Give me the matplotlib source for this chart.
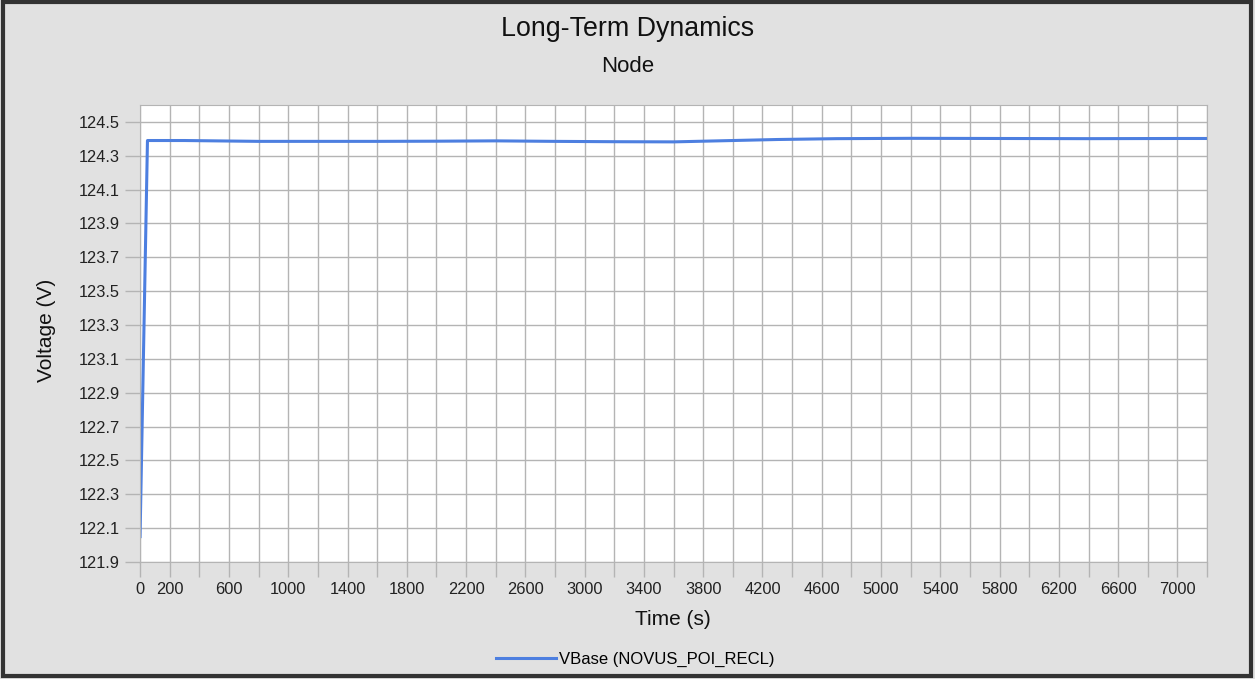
import numpy as np
import matplotlib.pyplot as plt
from matplotlib.patches import Rectangle

plt.rcParams['font.family'] = ['Liberation Sans', 'DejaVu Sans']

# values
time_s = [0, 50, 300, 800, 1200, 1600, 2000, 2400, 2800, 3200, 3600, 3900, 4300, 4700, 5200, 5800, 6400, 7000, 7200]
vbase = [122.05, 124.39, 124.39, 124.385, 124.385, 124.385, 124.386, 124.388, 124.385, 124.383, 124.382,
         124.388, 124.396, 124.401, 124.403, 124.402, 124.401, 124.402, 124.402]

x_grid = np.arange(0, 7201, 200)
x_labels = [0, 200] + list(range(600, 7001, 400))
y_ticks = np.round(np.arange(121.9, 124.51, 0.2), 1)

bg = '#e1e1e1'
fig = plt.figure(figsize=(12.55, 6.79), dpi=100, facecolor=bg)
ax = fig.add_axes([0.1116, 0.1723, 0.8502, 0.6731])
ax.set_facecolor('white')

ax.plot(time_s, vbase, color='#4d7fe0', lw=2.2, label='VBase (NOVUS_POI_RECL)')

ax.set_xlim(0, 7200)
ax.set_ylim(121.9, 124.6)
ax.set_xticks(x_grid)
ax.set_xticklabels([str(v) if v in x_labels else '' for v in x_grid])
ax.set_yticks(y_ticks)
ax.set_yticklabels([f'{v:.1f}' for v in y_ticks])
ax.grid(True, color='#b4b4b4', lw=1)
ax.tick_params(colors='#b4b4b4', labelcolor='#222222', labelsize=11.8, length=11, width=1)
for s in ax.spines.values():
    s.set_color('#b4b4b4')

fig.text(0.5, 0.958, 'Long-Term Dynamics', ha='center', va='center', fontsize=19.3, color='#111111')
fig.text(0.5, 0.902, 'Node', ha='center', va='center', fontsize=16, color='#111111')
fig.text(0.536, 0.087, 'Time (s)', ha='center', va='center', fontsize=15, color='#111111')
fig.text(0.037, 0.514, 'Voltage (V)', ha='center', va='center', rotation=90, fontsize=15, color='#111111')

fig.legend(loc='center', bbox_to_anchor=(0.506, 0.029), frameon=False, fontsize=12,
           handlelength=3.6, handletextpad=0.2)

# dark border round the picture
fig.patches.append(Rectangle((0.002, 0.004), 0.995, 0.993, transform=fig.transFigure,
                             fill=False, edgecolor='#333333', lw=3))

fig.savefig('out.png', dpi=100, facecolor=bg)
